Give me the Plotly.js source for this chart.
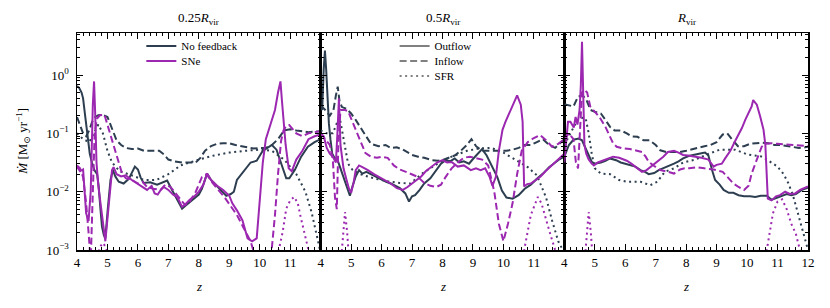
<!DOCTYPE html>
<html>
<head>
<meta charset="utf-8">
<script src="https://cdn.plot.ly/plotly-3.0.1.min.js"></script>
<style>html,body{margin:0;padding:0;background:#fff;}#chart{width:830px;height:308px;}</style>
</head>
<body>
<div id="chart"></div>
<script>
// ---- DATA (Mdot stored as log10 of Msun/yr) ----
const panelTitles = ['0.25<i>R</i><sub>vir</sub>', '0.5<i>R</i><sub>vir</sub>', '<i>R</i><sub>vir</sub>'];
const xTicks12 = [4,5,6,7,8,9,10,11];
const xTicks3 = [4,5,6,7,8,9,10,11,12];
const yTickVals = [0.001, 0.01, 0.1, 1];
const yTickText = ['10<sup>−3</sup>', '10<sup>−2</sup>', '10<sup>−1</sup>', '10<sup>0</sup>'];

// Panel 1 : 0.25 Rvir
const p1_nofb_out_z = [4.0,4.07,4.15,4.2,4.27,4.35,4.42,4.49,4.57,4.66,4.71,4.77,4.82,4.88,4.93,5.01,5.1,5.18,5.26,5.37,5.53,5.7,5.8,5.9,6.0,6.09,6.19,6.4,6.63,6.85,6.96,7.12,7.29,7.45,7.56,7.73,7.89,8.0,8.1,8.27,8.4,8.55,8.7,8.9,9.05,9.15,9.25,9.4,9.55,9.7,9.9,10.1,10.25,10.4,10.55,10.7,10.87,10.97,11.15,11.36,11.58,11.8,12.0];
const p1_nofb_out_m = [-0.19,-0.22,-0.3,-0.4,-0.71,-1.1,-1.35,-1.5,-1.63,-1.7,-1.9,-2.3,-2.6,-2.74,-2.8,-2.3,-1.8,-1.63,-1.74,-1.83,-1.86,-1.78,-1.66,-1.57,-1.62,-1.76,-1.85,-1.84,-1.88,-1.83,-1.81,-1.97,-2.14,-2.29,-2.24,-2.17,-2.11,-2.05,-1.95,-1.69,-1.8,-1.88,-1.95,-2.07,-2.04,-2.0,-1.8,-1.7,-1.58,-1.5,-1.47,-1.3,-1.25,-1.2,-1.28,-1.52,-1.77,-1.77,-1.63,-1.4,-1.23,-1.15,-1.1];
const p1_nofb_in_z = [4.0,4.1,4.2,4.3,4.4,4.5,4.6,4.7,4.85,5.0,5.1,5.2,5.3,5.45,5.6,5.8,6.0,6.2,6.5,6.7,6.85,7.0,7.2,7.45,7.7,7.9,8.05,8.2,8.4,8.6,8.8,9.0,9.2,9.4,9.6,9.8,10.0,10.2,10.4,10.6,10.8,11.0,11.2,11.4,11.6,11.8,12.0];
const p1_nofb_in_m = [-0.72,-0.85,-1.0,-1.05,-0.95,-0.8,-0.72,-0.69,-0.68,-0.72,-0.85,-1.0,-1.12,-1.2,-1.25,-1.27,-1.26,-1.3,-1.3,-1.3,-1.36,-1.45,-1.48,-1.5,-1.5,-1.5,-1.42,-1.3,-1.22,-1.18,-1.17,-1.17,-1.2,-1.22,-1.25,-1.26,-1.25,-1.25,-1.2,-1.1,-0.95,-0.93,-0.95,-0.97,-0.98,-0.97,-0.97];
const p1_nofb_sfr_z = [4.0,4.2,4.4,4.55,4.7,4.85,5.0,5.15,5.4,5.8,6.2,6.6,7.0,7.4,8.0,8.5,9.0,9.5,10.0,10.4,10.8,11.2,11.5,11.7,11.9,12.0];
const p1_nofb_sfr_m = [-1.0,-1.1,-1.15,-1.0,-0.85,-1.0,-1.3,-1.5,-1.65,-1.72,-1.8,-1.8,-1.7,-1.55,-1.45,-1.38,-1.33,-1.3,-1.28,-1.3,-1.45,-1.7,-2.0,-2.35,-2.8,-3.05];
const p1_sne_out_z = [4.0,4.1,4.2,4.3,4.38,4.45,4.52,4.56,4.6,4.64,4.7,4.8,4.88,4.93,5.03,5.15,5.2,5.3,5.45,5.6,5.8,5.97,6.15,6.3,6.45,6.55,6.65,6.75,6.85,7.0,7.15,7.3,7.45,7.55,7.7,7.85,8.0,8.15,8.27,8.4,8.6,8.8,9.0,9.1,9.25,9.43,9.6,9.75,9.9,10.0,10.1,10.2,10.3,10.4,10.5,10.6,10.68,10.73,10.78,10.85,10.95,11.05,11.2,11.4,11.6,11.8,12.0];
const p1_sne_out_m = [-1.57,-1.65,-1.62,-2.37,-2.5,-2.0,-0.5,-0.11,-0.7,-1.5,-1.9,-2.35,-2.66,-2.85,-2.3,-1.63,-1.58,-1.7,-1.74,-1.72,-1.8,-1.86,-1.92,-1.97,-1.9,-2.03,-2.05,-1.97,-1.92,-1.97,-2.05,-2.1,-2.26,-2.22,-2.14,-2.08,-2.0,-1.88,-1.69,-1.8,-1.9,-1.97,-2.07,-2.2,-2.32,-2.49,-2.8,-2.85,-2.8,-2.2,-1.5,-1.1,-0.94,-0.77,-0.6,-0.3,-0.11,-0.45,-0.75,-1.2,-1.6,-1.65,-1.45,-1.3,-1.1,-1.05,-1.02];
const p1_sne_in_z = [4.0,4.1,4.2,4.3,4.38,4.45,4.52,4.58,4.65,4.75,4.9,5.02,5.13,5.24,5.37,5.48,5.6,5.8,6.0,6.15,6.3,6.5,6.74,6.9,7.07,7.25,7.4,7.55,7.7,7.9,8.1,8.25,8.45,8.65,8.85,9.05,9.25,9.45,9.7,9.9,10.3,10.4,10.5,10.6,10.7,10.78,10.87,10.97,11.08,11.2,11.4,11.6,11.8,12.0];
const p1_sne_in_m = [-1.55,-1.6,-1.75,-2.2,-2.7,-3.2,-2.0,-1.0,-0.75,-0.69,-0.68,-0.89,-1.11,-1.31,-1.51,-1.69,-1.77,-1.8,-1.86,-1.83,-1.92,-1.95,-1.97,-1.88,-1.92,-2.03,-2.14,-2.23,-2.17,-2.0,-1.75,-1.7,-1.85,-1.97,-2.1,-2.25,-2.4,-2.6,-2.85,-3.2,-3.3,-2.95,-2.4,-1.7,-1.13,-0.95,-0.87,-0.86,-0.93,-1.0,-1.05,-1.0,-0.98,-0.96];
const p1_sne_sfr_z = [4.6,4.75,4.85,4.95,5.1,null,10.5,10.65,10.75,10.87,11.0,11.13,11.25,11.35,11.5,11.6,11.7];
const p1_sne_sfr_m = [-3.3,-2.95,-2.88,-2.95,-3.3,null,-3.3,-2.95,-2.7,-2.29,-2.15,-2.09,-2.2,-2.45,-2.77,-3.0,-3.3];

// Panel 2 : 0.5 Rvir
const p2_nofb_out_z = [4.0,4.05,4.1,4.14,4.18,4.22,4.27,4.32,4.38,4.45,4.55,4.65,4.75,4.85,4.96,5.05,5.15,5.26,5.37,5.5,5.65,5.85,6.0,6.15,6.3,6.45,6.6,6.78,6.9,7.0,7.1,7.25,7.4,7.6,7.8,7.95,8.1,8.25,8.4,8.55,8.7,8.87,9.0,9.1,9.3,9.45,9.6,9.8,9.95,10.1,10.3,10.5,10.7,10.9,11.1,11.3,11.5,11.7,11.85,12.0];
const p2_nofb_out_m = [-0.55,-0.6,0.1,0.42,0.1,-0.37,-0.83,-1.1,-1.35,-1.42,-1.45,-1.6,-1.75,-1.92,-2.07,-1.9,-1.74,-1.63,-1.69,-1.66,-1.7,-1.76,-1.8,-1.83,-1.86,-1.9,-1.94,-2.03,-2.17,-2.08,-2.06,-1.97,-1.86,-1.77,-1.63,-1.52,-1.46,-1.48,-1.43,-1.5,-1.48,-1.52,-1.44,-1.38,-1.27,-1.38,-1.55,-1.75,-1.98,-2.1,-2.12,-2.06,-1.95,-1.88,-1.78,-1.69,-1.58,-1.5,-1.44,-1.4];
const p2_nofb_in_z = [4.0,4.15,4.3,4.42,4.5,4.56,4.62,4.7,4.85,5.0,5.15,5.3,5.45,5.65,5.9,6.13,6.3,6.5,6.7,7.0,7.2,7.4,7.65,7.85,8.0,8.2,8.4,8.6,8.8,8.95,9.1,9.3,9.5,9.7,9.9,10.1,10.3,10.5,10.7,10.9,11.1,11.3,11.5,11.7,11.9,12.0];
const p2_nofb_in_m = [-0.52,-0.6,-0.7,-0.6,-0.35,-0.2,-0.45,-0.55,-0.58,-0.66,-0.77,-0.89,-1.0,-1.18,-1.22,-1.2,-1.25,-1.24,-1.28,-1.37,-1.4,-1.42,-1.46,-1.47,-1.46,-1.42,-1.38,-1.3,-1.2,-1.1,-1.22,-1.3,-1.3,-1.3,-1.3,-1.3,-1.28,-1.25,-1.2,-1.2,-1.15,-1.1,-1.2,-1.25,-1.15,-1.1];
const p2_nofb_sfr_z = [4.0,4.2,4.4,4.55,4.65,4.78,4.9,5.05,5.3,5.6,5.8,6.2,6.6,6.95,7.3,7.6,7.9,8.2,8.5,8.8,9.2,9.6,10.0,10.4,10.8,11.1,11.4,11.6,11.8,12.0];
const p2_nofb_sfr_m = [-0.95,-1.0,-1.0,-0.8,-0.8,-1.17,-1.52,-1.63,-1.7,-1.75,-1.78,-1.82,-1.85,-1.86,-1.7,-1.6,-1.5,-1.42,-1.36,-1.3,-1.26,-1.25,-1.33,-1.45,-1.58,-1.72,-2.1,-2.5,-2.85,-3.05];
const p2_sne_out_z = [4.0,4.1,4.2,4.3,4.4,4.5,4.55,4.6,4.65,4.75,4.85,4.93,5.0,5.08,5.15,5.26,5.37,5.55,5.75,6.0,6.3,6.5,6.7,6.85,7.0,7.15,7.3,7.45,7.66,7.82,8.0,8.15,8.3,8.5,8.7,8.93,9.1,9.25,9.4,9.55,9.64,9.75,9.85,9.97,10.07,10.24,10.35,10.45,10.57,10.63,10.68,10.78,10.9,11.06,11.22,11.38,11.55,11.72,11.88,12.0];
const p2_sne_out_m = [-1.0,-1.05,-1.25,-1.35,-1.4,-1.5,-1.0,-0.4,-1.2,-1.6,-1.8,-1.95,-2.02,-1.85,-1.63,-1.55,-1.58,-1.63,-1.7,-1.77,-1.86,-1.94,-1.97,-1.92,-1.86,-1.8,-1.74,-1.65,-1.57,-1.5,-1.46,-1.5,-1.49,-1.57,-1.55,-1.63,-1.6,-1.63,-1.6,-1.75,-1.9,-1.75,-1.3,-0.94,-0.8,-0.6,-0.47,-0.35,-0.51,-0.8,-1.91,-1.87,-1.86,-1.8,-1.74,-1.65,-1.57,-1.48,-1.4,-1.35];
const p2_sne_in_z = [4.0,4.15,4.3,4.4,4.47,4.53,4.58,4.65,4.8,4.9,5.0,5.15,5.3,5.47,5.65,5.85,6.0,6.2,6.4,6.6,6.8,7.0,7.2,7.4,7.6,7.8,7.95,8.1,8.3,8.5,8.7,8.9,9.1,9.3,9.5,9.7,9.85,10.0,10.15,10.3,10.45,10.6,10.8,11.0,11.2,11.4,11.6,11.8,12.0];
const p2_sne_in_m = [-1.0,-1.1,-1.2,-1.45,-2.1,-2.3,-1.2,-0.6,-0.6,-0.62,-0.75,-0.95,-1.15,-1.34,-1.4,-1.42,-1.4,-1.42,-1.55,-1.62,-1.66,-1.7,-1.75,-1.85,-1.9,-1.92,-1.88,-1.75,-1.6,-1.5,-1.42,-1.4,-1.42,-1.45,-1.55,-2.0,-2.55,-2.85,-2.55,-2.2,-1.7,-1.3,-1.15,-1.08,-1.03,-1.12,-1.23,-1.18,-1.1];
const p2_sne_sfr_z = [4.65,4.72,4.8,4.87,4.95,null,10.6,10.7,10.9,11.0,11.13,11.25,11.4,11.55,11.7,11.8];
const p2_sne_sfr_m = [-3.3,-2.8,-2.35,-2.7,-3.3,null,-3.3,-2.95,-2.4,-2.25,-2.09,-2.2,-2.5,-2.75,-3.0,-3.3];

// Panel 3 : Rvir
const p3_nofb_out_z = [4.0,4.15,4.3,4.47,4.58,4.7,4.8,4.9,5.0,5.2,5.35,5.5,5.7,5.85,6.0,6.17,6.33,6.5,6.65,6.77,6.95,7.1,7.25,7.4,7.6,7.75,7.9,8.08,8.3,8.5,8.62,8.73,8.85,8.95,9.1,9.23,9.4,9.55,9.72,9.9,10.1,10.27,10.45,10.65,10.8,11.0,11.14,11.3,11.45,11.6,11.8,12.0];
const p3_nofb_out_m = [-1.4,-1.2,-1.11,-1.09,-1.12,-1.25,-1.37,-1.49,-1.52,-1.5,-1.47,-1.43,-1.46,-1.5,-1.52,-1.55,-1.57,-1.63,-1.66,-1.7,-1.68,-1.63,-1.6,-1.56,-1.52,-1.48,-1.43,-1.39,-1.36,-1.34,-1.33,-1.38,-1.63,-1.8,-1.88,-1.97,-2.02,-2.02,-2.06,-2.08,-2.08,-2.09,-2.07,-2.07,-2.14,-2.1,-2.06,-2.04,-2.06,-2.04,-1.97,-1.93];
const p3_nofb_in_z = [4.0,4.15,4.3,4.45,4.6,4.72,4.86,5.0,5.2,5.35,5.5,5.65,5.85,6.05,6.2,6.4,6.6,6.8,7.0,7.15,7.35,7.6,7.8,8.0,8.2,8.4,8.6,8.8,9.0,9.2,9.35,9.5,9.7,9.9,10.1,10.3,10.5,10.7,10.9,11.1,11.3,11.5,11.7,11.9,12.0];
const p3_nofb_in_m = [-0.5,-0.52,-0.54,-0.37,-0.35,-0.42,-0.6,-0.63,-0.66,-0.77,-0.89,-0.95,-0.95,-1.0,-1.05,-1.06,-1.12,-1.12,-1.2,-1.29,-1.32,-1.32,-1.32,-1.3,-1.27,-1.25,-1.22,-1.2,-1.15,-1.02,-1.0,-1.1,-1.22,-1.22,-1.18,-1.17,-1.16,-1.17,-1.2,-1.2,-1.22,-1.24,-1.25,-1.24,-1.23];
const p3_nofb_sfr_z = [4.0,4.2,4.4,4.52,4.7,4.8,4.9,5.0,5.2,5.5,5.8,6.05,6.5,6.82,7.05,7.3,7.6,7.9,8.3,8.6,9.1,9.6,10.0,10.5,10.8,11.0,11.2,11.35,11.5,11.63,11.75,11.88,12.0];
const p3_nofb_sfr_m = [-1.2,-1.0,-0.8,-0.73,-0.74,-1.0,-1.35,-1.6,-1.69,-1.7,-1.8,-1.83,-1.83,-1.89,-1.83,-1.66,-1.6,-1.5,-1.45,-1.38,-1.28,-1.28,-1.36,-1.4,-1.5,-1.57,-1.7,-1.85,-2.05,-2.3,-2.55,-2.8,-3.0];
const p3_sne_out_z = [4.0,4.06,4.12,4.2,4.25,4.31,4.37,4.43,4.5,4.54,4.58,4.62,4.66,4.72,4.8,4.9,4.97,5.1,5.25,5.45,5.6,5.8,6.05,6.2,6.4,6.55,6.7,6.85,7.0,7.25,7.4,7.6,7.75,7.9,8.05,8.3,8.5,8.73,8.9,9.0,9.17,9.28,9.45,9.6,9.72,9.83,9.94,10.05,10.15,10.2,10.32,10.43,10.54,10.6,10.64,10.68,10.8,10.95,11.08,11.25,11.4,11.58,11.74,11.9,12.0];
const p3_sne_out_m = [-1.5,-1.1,-0.8,-0.8,-0.85,-0.9,-0.72,-0.85,-0.6,-0.2,0.57,-0.3,-1.2,-1.35,-1.45,-1.52,-1.55,-1.5,-1.47,-1.43,-1.4,-1.42,-1.47,-1.52,-1.6,-1.66,-1.63,-1.57,-1.5,-1.4,-1.32,-1.3,-1.33,-1.37,-1.38,-1.4,-1.42,-1.45,-1.57,-1.54,-1.52,-1.43,-1.3,-1.14,-1.03,-0.91,-0.77,-0.66,-0.54,-0.43,-0.51,-0.71,-0.94,-1.2,-1.8,-2.12,-2.15,-2.08,-2.06,-2.0,-2.04,-2.03,-1.97,-1.94,-1.91];
const p3_sne_in_z = [4.0,4.15,4.3,4.38,4.45,4.52,4.58,4.65,4.75,4.85,5.0,5.15,5.35,5.5,5.6,5.72,5.95,6.15,6.35,6.55,6.67,6.77,6.95,7.15,7.4,7.6,7.8,7.95,8.1,8.35,8.6,8.9,9.2,9.35,9.55,9.72,9.9,10.05,10.15,10.27,10.37,10.48,10.6,10.8,11.0,11.2,11.4,11.6,11.8,12.0];
const p3_sne_in_m = [-1.1,-1.0,-1.1,-1.5,-1.6,-0.8,-0.3,-0.25,-0.3,-0.54,-0.63,-0.72,-0.89,-1.06,-1.17,-1.23,-1.26,-1.27,-1.29,-1.32,-1.4,-1.49,-1.56,-1.63,-1.66,-1.69,-1.62,-1.6,-1.6,-1.58,-1.6,-1.62,-1.66,-1.75,-1.86,-1.92,-1.97,-1.9,-1.69,-1.52,-1.37,-1.23,-1.18,-1.17,-1.18,-1.19,-1.2,-1.21,-1.22,-1.22];
const p3_sne_sfr_z = [4.65,4.72,4.8,4.87,4.95,null,10.55,10.65,10.75,10.85,11.0,11.15,11.3,11.45,11.6,11.72,11.8];
const p3_sne_sfr_m = [-3.3,-2.8,-2.35,-2.7,-3.3,null,-3.3,-2.97,-2.65,-2.37,-2.17,-2.13,-2.3,-2.55,-2.72,-2.97,-3.3];

// ---- STYLE ----
const DARK = '#2c3e50', PURPLE = '#9c27b0', GREY = '#808080';
const DASH = {solid:'solid', dashed:'7px,3.5px', dotted:'2px,3.5px'};
const FONT = 'Liberation Serif, DejaVu Serif, serif';

function toLin(arr){ return arr.map(v => v === null ? null : Math.pow(10, v)); }
function tr(z, m, color, dash, k){
  return {x:z, y:toLin(m), mode:'lines', line:{color:color, width:2, dash:DASH[dash]},
    xaxis:'x'+(k===1?'':k), yaxis:'y'+(k===1?'':k), showlegend:false, hoverinfo:'skip', connectgaps:false};
}

const traces = [
  tr(p1_nofb_sfr_z,p1_nofb_sfr_m,DARK,'dotted',1), tr(p1_nofb_in_z,p1_nofb_in_m,DARK,'dashed',1), tr(p1_nofb_out_z,p1_nofb_out_m,DARK,'solid',1),
  tr(p1_sne_sfr_z,p1_sne_sfr_m,PURPLE,'dotted',1), tr(p1_sne_in_z,p1_sne_in_m,PURPLE,'dashed',1), tr(p1_sne_out_z,p1_sne_out_m,PURPLE,'solid',1),
  tr(p2_nofb_sfr_z,p2_nofb_sfr_m,DARK,'dotted',2), tr(p2_nofb_in_z,p2_nofb_in_m,DARK,'dashed',2), tr(p2_nofb_out_z,p2_nofb_out_m,DARK,'solid',2),
  tr(p2_sne_sfr_z,p2_sne_sfr_m,PURPLE,'dotted',2), tr(p2_sne_in_z,p2_sne_in_m,PURPLE,'dashed',2), tr(p2_sne_out_z,p2_sne_out_m,PURPLE,'solid',2),
  tr(p3_nofb_sfr_z,p3_nofb_sfr_m,DARK,'dotted',3), tr(p3_nofb_in_z,p3_nofb_in_m,DARK,'dashed',3), tr(p3_nofb_out_z,p3_nofb_out_m,DARK,'solid',3),
  tr(p3_sne_sfr_z,p3_sne_sfr_m,PURPLE,'dotted',3), tr(p3_sne_in_z,p3_sne_in_m,PURPLE,'dashed',3), tr(p3_sne_out_z,p3_sne_out_m,PURPLE,'solid',3)
];
// legend entries: one legend per entry so the row spacing matches the reference
const legendNames = ['No feedback', 'SNe', 'Outflow', 'Inflow', 'SFR'];
const legendColors = [DARK, PURPLE, GREY, GREY, GREY];
const legendDash = ['solid', 'solid', 'solid', 'dashed', 'dotted'];
const legendX = [0.088, 0.088, 0.4345, 0.4345, 0.4345];
const legendY = [0.940, 0.871, 0.940, 0.871, 0.802];
const legendLayout = {};
legendNames.forEach((nm, i) => {
  const key = i === 0 ? 'legend' : 'legend' + (i + 1);
  traces.push({x:[null], y:[null], mode:'lines', name:nm, line:{color:legendColors[i], width:2, dash:DASH[legendDash[i]]},
    legend:key, xaxis:'x', yaxis:'y', hoverinfo:'skip'});
  legendLayout[key] = {x:legendX[i], y:legendY[i], xanchor:'left', yanchor:'middle', bgcolor:'rgba(0,0,0,0)',
    font:{family:FONT, size:11, color:'#000'}, itemwidth:30, borderwidth:0};
});

function xax(k){
  return {domain:[(k-1)/3, k/3], range:[4,12], tickmode:'array', tickvals:(k===3?xTicks3:xTicks12),
    ticks:'inside', ticklen:6, tickwidth:1, tickcolor:'#000', showline:true, linewidth:1.5, linecolor:'#000', mirror:'allticks',
    minor:{dtick:0.2, ticks:'inside', ticklen:3, tickwidth:1, tickcolor:'#000', showgrid:false},
    showgrid:false, zeroline:false, anchor:(k===1?'y':'y'+k), tickfont:{family:FONT, size:13, color:'#000'}, fixedrange:true};
}
function yax(k){
  return {type:'log', range:[-3, 0.72], tickmode:'array', tickvals:yTickVals, ticktext:yTickText, showticklabels:(k===1),
    ticks:'inside', ticklen:6, tickwidth:1, tickcolor:'#000', showline:true, linewidth:1.5, linecolor:'#000', mirror:'allticks',
    minor:{dtick:'D1', ticks:'inside', ticklen:3, tickwidth:1, tickcolor:'#000', showgrid:false},
    showgrid:false, zeroline:false, anchor:(k===1?'x':'x'+k), tickfont:{family:FONT, size:13, color:'#000'}, ticklabelstandoff:4, fixedrange:true};
}

const annotations = [];
for (let k=1;k<=3;k++){
  annotations.push({text:panelTitles[k-1], xref:'paper', yref:'paper', x:(k-0.5)/3, y:1.069, xanchor:'center', yanchor:'middle', showarrow:false, font:{family:FONT, size:13, color:'#000'}});
  annotations.push({text:'<i>z</i>', xref:'paper', yref:'paper', x:(k-0.5)/3, y:-0.17, xanchor:'center', yanchor:'middle', showarrow:false, font:{family:FONT, size:13, color:'#000'}});
}
annotations.push({text:'<i>Ṁ</i> [M<sub>⊙</sub> yr<sup>−1</sup>]', xref:'paper', yref:'paper', x:-0.075, y:0.5, xanchor:'center', yanchor:'middle', textangle:-90, showarrow:false, font:{family:FONT, size:13, color:'#000'}});

const layout = Object.assign({
  width:830, height:308, margin:{l:77, r:22, t:33, b:58}, paper_bgcolor:'#fff', plot_bgcolor:'#fff',
  xaxis:xax(1), xaxis2:xax(2), xaxis3:xax(3), yaxis:yax(1), yaxis2:yax(2), yaxis3:yax(3),
  annotations:annotations, showlegend:true
}, legendLayout);
Plotly.newPlot('chart', traces, layout, {staticPlot:true, displayModeBar:false});
</script>
</body>
</html>
